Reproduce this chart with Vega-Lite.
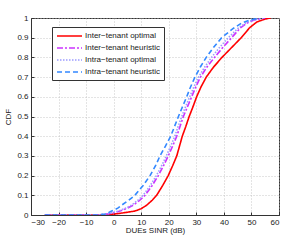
{
  "$schema": "https://vega.github.io/schema/vega-lite/v6.json",
  "autosize": "none",
  "width": 248,
  "height": 197,
  "padding": {"left": 31, "top": 18, "right": 20, "bottom": 27},
  "background": "white",
  "config": {
    "font": "Liberation Sans",
    "view": {"stroke": "#333333", "strokeWidth": 1},
    "axis": {
      "labelFontSize": 8, "titleFontSize": 8, "labelColor": "#222", "titleColor": "#222",
      "titleFontWeight": "normal", "domainColor": "#333", "tickColor": "#333",
      "gridColor": "#bbbbbb", "gridDash": [1, 2], "gridWidth": 0.8, "tickSize": -3, "labelPadding": 6
    }
  },
  "data": {"values": [
    {"s":"Inter−tenant optimal","x":-25,"y":0},{"s":"Inter−tenant optimal","x":-5,"y":0},{"s":"Inter−tenant optimal","x":-2,"y":0.002},{"s":"Inter−tenant optimal","x":1,"y":0.006},{"s":"Inter−tenant optimal","x":4,"y":0.012},{"s":"Inter−tenant optimal","x":7.7,"y":0.02},{"s":"Inter−tenant optimal","x":10,"y":0.032},{"s":"Inter−tenant optimal","x":12,"y":0.05},{"s":"Inter−tenant optimal","x":14,"y":0.075},{"s":"Inter−tenant optimal","x":15.6,"y":0.1},{"s":"Inter−tenant optimal","x":17.8,"y":0.15},{"s":"Inter−tenant optimal","x":19.8,"y":0.2},{"s":"Inter−tenant optimal","x":21.4,"y":0.25},{"s":"Inter−tenant optimal","x":22.9,"y":0.3},{"s":"Inter−tenant optimal","x":23.9,"y":0.35},{"s":"Inter−tenant optimal","x":24.9,"y":0.4},{"s":"Inter−tenant optimal","x":26.2,"y":0.45},{"s":"Inter−tenant optimal","x":27.4,"y":0.5},{"s":"Inter−tenant optimal","x":28.8,"y":0.55},{"s":"Inter−tenant optimal","x":30.1,"y":0.6},{"s":"Inter−tenant optimal","x":31.7,"y":0.65},{"s":"Inter−tenant optimal","x":33.6,"y":0.7},{"s":"Inter−tenant optimal","x":36.2,"y":0.75},{"s":"Inter−tenant optimal","x":39.3,"y":0.8},{"s":"Inter−tenant optimal","x":42.8,"y":0.85},{"s":"Inter−tenant optimal","x":46.3,"y":0.9},{"s":"Inter−tenant optimal","x":49.3,"y":0.95},{"s":"Inter−tenant optimal","x":52,"y":0.98},{"s":"Inter−tenant optimal","x":55,"y":0.995},{"s":"Inter−tenant optimal","x":57,"y":1},
    {"s":"Inter−tenant heuristic","x":-25,"y":0},{"s":"Inter−tenant heuristic","x":-5,"y":0},{"s":"Inter−tenant heuristic","x":-1,"y":0.008},{"s":"Inter−tenant heuristic","x":2.3,"y":0.02},{"s":"Inter−tenant heuristic","x":5,"y":0.035},{"s":"Inter−tenant heuristic","x":7.1,"y":0.05},{"s":"Inter−tenant heuristic","x":9.5,"y":0.075},{"s":"Inter−tenant heuristic","x":11.4,"y":0.1},{"s":"Inter−tenant heuristic","x":14,"y":0.15},{"s":"Inter−tenant heuristic","x":16.2,"y":0.2},{"s":"Inter−tenant heuristic","x":18.1,"y":0.25},{"s":"Inter−tenant heuristic","x":19.8,"y":0.3},{"s":"Inter−tenant heuristic","x":21.4,"y":0.35},{"s":"Inter−tenant heuristic","x":22.9,"y":0.4},{"s":"Inter−tenant heuristic","x":24.1,"y":0.45},{"s":"Inter−tenant heuristic","x":25.3,"y":0.5},{"s":"Inter−tenant heuristic","x":26.8,"y":0.55},{"s":"Inter−tenant heuristic","x":28.3,"y":0.6},{"s":"Inter−tenant heuristic","x":29.8,"y":0.65},{"s":"Inter−tenant heuristic","x":31.5,"y":0.7},{"s":"Inter−tenant heuristic","x":33.8,"y":0.75},{"s":"Inter−tenant heuristic","x":36.6,"y":0.8},{"s":"Inter−tenant heuristic","x":39.6,"y":0.85},{"s":"Inter−tenant heuristic","x":42.8,"y":0.9},{"s":"Inter−tenant heuristic","x":46,"y":0.95},{"s":"Inter−tenant heuristic","x":48.5,"y":0.975},{"s":"Inter−tenant heuristic","x":51,"y":0.99},{"s":"Inter−tenant heuristic","x":55,"y":1},
    {"s":"Intra−tenant optimal","x":-25,"y":0},{"s":"Intra−tenant optimal","x":-5.5,"y":0},{"s":"Intra−tenant optimal","x":-1.5,"y":0.008},{"s":"Intra−tenant optimal","x":1.7,"y":0.02},{"s":"Intra−tenant optimal","x":4.4,"y":0.035},{"s":"Intra−tenant optimal","x":6.5,"y":0.05},{"s":"Intra−tenant optimal","x":8.8,"y":0.075},{"s":"Intra−tenant optimal","x":10.7,"y":0.1},{"s":"Intra−tenant optimal","x":13.3,"y":0.15},{"s":"Intra−tenant optimal","x":15.5,"y":0.2},{"s":"Intra−tenant optimal","x":17.4,"y":0.25},{"s":"Intra−tenant optimal","x":19.1,"y":0.3},{"s":"Intra−tenant optimal","x":20.7,"y":0.35},{"s":"Intra−tenant optimal","x":22.2,"y":0.4},{"s":"Intra−tenant optimal","x":23.4,"y":0.45},{"s":"Intra−tenant optimal","x":24.7,"y":0.5},{"s":"Intra−tenant optimal","x":26.1,"y":0.55},{"s":"Intra−tenant optimal","x":27.6,"y":0.6},{"s":"Intra−tenant optimal","x":29.1,"y":0.65},{"s":"Intra−tenant optimal","x":30.8,"y":0.7},{"s":"Intra−tenant optimal","x":33,"y":0.75},{"s":"Intra−tenant optimal","x":35.5,"y":0.8},{"s":"Intra−tenant optimal","x":38.4,"y":0.85},{"s":"Intra−tenant optimal","x":41.6,"y":0.9},{"s":"Intra−tenant optimal","x":45.3,"y":0.95},{"s":"Intra−tenant optimal","x":48,"y":0.975},{"s":"Intra−tenant optimal","x":50.5,"y":0.99},{"s":"Intra−tenant optimal","x":54.5,"y":1},
    {"s":"Intra−tenant heuristic","x":-25,"y":0},{"s":"Intra−tenant heuristic","x":-6,"y":0},{"s":"Intra−tenant heuristic","x":-3,"y":0.005},{"s":"Intra−tenant heuristic","x":-0.7,"y":0.02},{"s":"Intra−tenant heuristic","x":1.5,"y":0.035},{"s":"Intra−tenant heuristic","x":2.9,"y":0.05},{"s":"Intra−tenant heuristic","x":5.5,"y":0.075},{"s":"Intra−tenant heuristic","x":7.7,"y":0.1},{"s":"Intra−tenant heuristic","x":10.7,"y":0.15},{"s":"Intra−tenant heuristic","x":13.2,"y":0.2},{"s":"Intra−tenant heuristic","x":15.2,"y":0.25},{"s":"Intra−tenant heuristic","x":16.8,"y":0.3},{"s":"Intra−tenant heuristic","x":18.8,"y":0.35},{"s":"Intra−tenant heuristic","x":20.7,"y":0.4},{"s":"Intra−tenant heuristic","x":22.1,"y":0.45},{"s":"Intra−tenant heuristic","x":23.5,"y":0.5},{"s":"Intra−tenant heuristic","x":25,"y":0.55},{"s":"Intra−tenant heuristic","x":26.5,"y":0.6},{"s":"Intra−tenant heuristic","x":27.9,"y":0.65},{"s":"Intra−tenant heuristic","x":29.5,"y":0.7},{"s":"Intra−tenant heuristic","x":31.4,"y":0.75},{"s":"Intra−tenant heuristic","x":33.6,"y":0.8},{"s":"Intra−tenant heuristic","x":36.2,"y":0.85},{"s":"Intra−tenant heuristic","x":39.2,"y":0.9},{"s":"Intra−tenant heuristic","x":43.4,"y":0.947},{"s":"Intra−tenant heuristic","x":46.5,"y":0.975},{"s":"Intra−tenant heuristic","x":49.5,"y":0.99},{"s":"Intra−tenant heuristic","x":53,"y":1}
  ]},
  "mark": {"type": "line", "strokeWidth": 1.6, "clip": true},
  "encoding": {
    "x": {"field": "x", "type": "quantitative", "title": "DUEs SINR (dB)",
      "scale": {"domain": [-30, 60], "nice": false},
      "axis": {"values": [-30,-20,-10,0,10,20,30,40,50,60], "titlePadding": 0}},
    "y": {"field": "y", "type": "quantitative", "title": "CDF",
      "scale": {"domain": [0, 1], "nice": false},
      "axis": {"values": [0,0.1,0.2,0.3,0.4,0.5,0.6,0.7,0.8,0.9,1], "format": ".1~f", "titlePadding": 4}},
    "order": {"field": "y", "type": "quantitative"},
    "color": {"field": "s", "type": "nominal",
      "scale": {"domain": ["Inter−tenant optimal","Inter−tenant heuristic","Intra−tenant optimal","Intra−tenant heuristic"],
                "range": ["#ff0000","#cc33ff","#9c9cff","#3388ff"]},
      "legend": {"title": null, "orient": "none", "legendX": 21, "legendY": 9,
        "fillColor": "white", "strokeColor": "#333", "padding": 4, "symbolType": "M-1,0H5.25",
        "symbolSize": 64, "symbolStrokeWidth": 1.6, "symbolFillColor": "transparent", "labelFontSize": 8, "rowPadding": 3, "labelOffset": 19, "labelColor": "#222"}},
    "strokeDash": {"field": "s", "type": "nominal",
      "scale": {"domain": ["Inter−tenant optimal","Inter−tenant heuristic","Intra−tenant optimal","Intra−tenant heuristic"],
                "range": [[1,0],[6,2,2,2],[1.5,1.5],[5,3]]},
      "legend": {"title": null}}
  }
}
